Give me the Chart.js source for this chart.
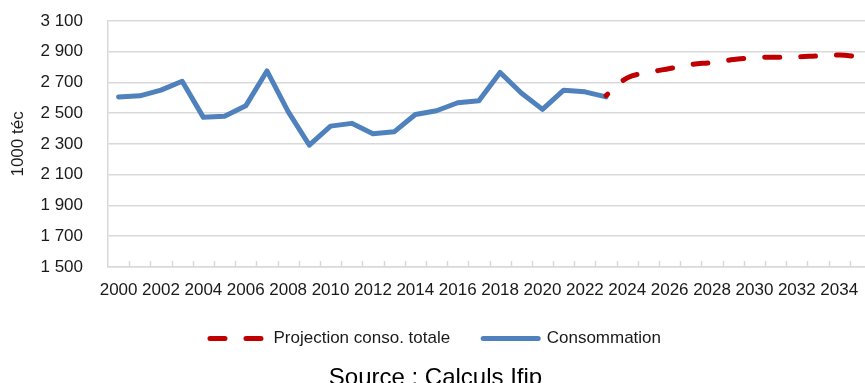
<!DOCTYPE html>
<html><head><meta charset="utf-8">
<script src="https://cdn.jsdelivr.net/npm/chart.js@4/dist/chart.umd.min.js"></script>
<style>
html,body{margin:0;padding:0;background:#fff;overflow:hidden;}
#wrap{position:relative;width:882px;height:383px;}
</style></head><body>
<div id="wrap"><canvas id="c"></canvas></div>
<script>
const years = ['2000','2001','2002','2003','2004','2005','2006','2007','2008','2009',
  '2010','2011','2012','2013','2014','2015','2016','2017','2018','2019',
  '2020','2021','2022','2023','2024','2025','2026','2027','2028','2029',
  '2030','2031','2032','2033','2034','2035'];
const consommation = [2606,2613,2650,2708,2473,2481,2548,2775,2510,2293,
  2416,2434,2366,2379,2492,2516,2568,2581,2765,2632,
  2525,2650,2639,2606,null,null,null,null,null,null,
  null,null,null,null,null,null];
const projection = [null,null,null,null,null,null,null,null,null,null,
  null,null,null,null,null,null,null,null,null,null,
  null,null,null,2615,2730,2765,2791,2817,2830,2849,
  2862,2864,2866,2873,2879,2866];
const yMin = 1500, yMax = 3100, yStep = 200;
const seriesNames = ['Projection conso. totale','Consommation'];
const sourceText = 'Source : Calculs Ifip';
const yTitle = '1000 téc';

const FONT = "'Liberation Sans', Arial, sans-serif";
const fmt = v => String(v).replace(/\B(?=(\d{3})+(?!\d))/g, ' ');

const insideTicks = {
  id: 'insideTicks',
  beforeDatasetsDraw(chart) {
    const xs = chart.scales.x, a = chart.chartArea, ctx = chart.ctx;
    const n = chart.data.labels.length;
    const half = (xs.getPixelForValue(1) - xs.getPixelForValue(0)) / 2;
    ctx.save();
    ctx.strokeStyle = '#d9d9d9'; ctx.lineWidth = 1.5;
    ctx.beginPath();
    for (let i = 0; i < n; i++) {
      const px = Math.round(xs.getPixelForValue(i) + half) + 0.5;
      ctx.moveTo(px, a.bottom - 6); ctx.lineTo(px, a.bottom);
    }
    ctx.stroke();
    ctx.restore();
  }
};

new Chart(document.getElementById('c'), {
  type: 'line',
  data: {
    labels: years,
    datasets: [
      { label: seriesNames[0], data: projection, borderColor: '#c00000', backgroundColor: '#c00000',
        borderWidth: 5, borderDash: [15, 21], borderDashOffset: 13, borderCapStyle: 'round',
        borderJoinStyle: 'round', tension: 0.4, pointRadius: 0, spanGaps: false, fill: false },
      { label: seriesNames[1], data: consommation, borderColor: '#4f81bd', backgroundColor: '#4f81bd',
        borderWidth: 5, borderCapStyle: 'round', borderJoinStyle: 'round', tension: 0,
        pointRadius: 0, fill: false }
    ]
  },
  plugins: [insideTicks],
  options: {
    responsive: true, maintainAspectRatio: false, animation: false,
    layout: { padding: { top: 21, right: 11, left: 0, bottom: 0 } },
    plugins: {
      tooltip: { enabled: false },
      legend: {
        position: 'bottom',
        labels: {
          usePointStyle: true, pointStyle: 'line', pointStyleWidth: 55, boxWidth: 55,
          font: { family: FONT, size: 17 }, color: '#1a1a1a', padding: 33,
          generateLabels(chart) {
            const items = Chart.defaults.plugins.legend.labels.generateLabels(chart);
            items.forEach(it => {
              const ds = chart.data.datasets[it.datasetIndex];
              it.pointStyle = 'line';
              it.lineDash = ds.borderDash || [];
              it.lineDashOffset = 0;
              it.lineWidth = ds.borderWidth;
              it.strokeStyle = ds.borderColor;
              it.fillStyle = ds.borderColor;
              it.lineCap = 'round';
            });
            return items;
          }
        }
      },
      title: {
        display: true, position: 'bottom', text: sourceText, color: '#000',
        font: { family: FONT, size: 24, weight: 'normal', lineHeight: 0.42 },
        padding: { top: 16, bottom: 0 }
      }
    },
    scales: {
      x: {
        offset: true,
        afterFit(s) { s.height = 30; },
        grid: { display: false, drawTicks: false },
        border: { display: true, color: '#d9d9d9', width: 1.5 },
        ticks: { autoSkip: false, maxRotation: 0, padding: 13, color: '#1a1a1a',
          font: { family: FONT, size: 17 },
          callback(v, i) { return i % 2 === 0 ? this.getLabelForValue(v) : ''; } }
      },
      y: {
        min: yMin, max: yMax,
        afterFit(s) { s.width = 108; },
        grid: { color: '#d9d9d9', lineWidth: 1.5, drawTicks: true, tickLength: 22,
          tickColor: 'rgba(0,0,0,0)' },
        border: { display: true, color: '#d9d9d9', width: 1.5 },
        ticks: { stepSize: yStep, padding: 3, color: '#1a1a1a', font: { family: FONT, size: 17 },
          callback: v => fmt(v) },
        title: { display: true, text: yTitle, color: '#1a1a1a', font: { family: FONT, size: 17 },
          padding: { top: 8, bottom: 0 } }
      }
    }
  }
});
</script>
</body></html>
